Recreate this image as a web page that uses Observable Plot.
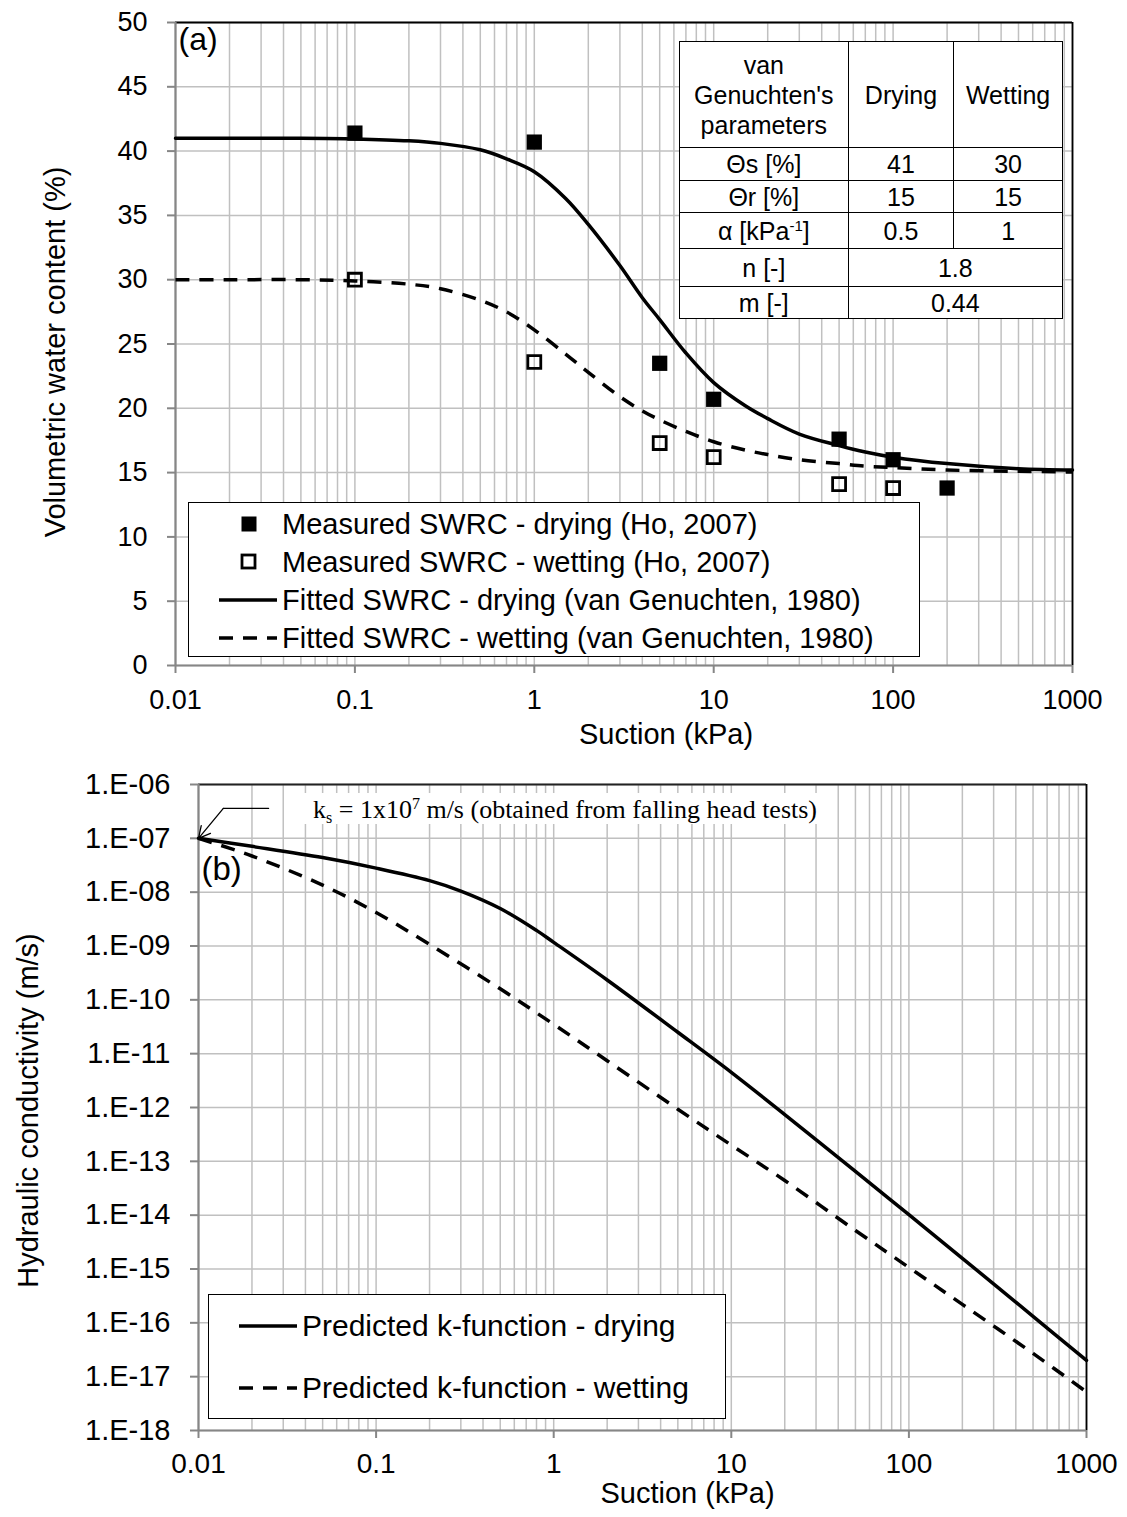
<!DOCTYPE html>
<html><head><meta charset="utf-8">
<script src="https://cdn.jsdelivr.net/npm/d3@7"></script>
<script src="https://cdn.jsdelivr.net/npm/@observablehq/plot@0.6"></script>
<style>
body{margin:0;background:#fff;}
#page{position:relative;width:1127px;height:1517px;font-family:"Liberation Sans",Arial,sans-serif;color:#000;overflow:hidden;background:#fff;}
#page svg{position:absolute;left:0;}
#ptable{position:absolute;left:679px;top:41px;width:384px;height:277px;border-collapse:collapse;background:#fff;font-size:25px;}
#ptable td{border:1.3px solid #000;text-align:center;padding:0;line-height:30px;}
.leg{position:absolute;background:#fff;border:1.5px solid #000;box-sizing:border-box;}
.row{position:absolute;left:0;white-space:nowrap;}
.row svg{position:absolute !important;}
#note{position:absolute;left:290px;top:793px;width:545px;height:31px;background:#fff;overflow:hidden;font-family:"Liberation Serif","Times New Roman",serif;font-size:26px;line-height:30px;padding-left:23px;padding-top:2px;box-sizing:border-box;white-space:nowrap;}
#note sub{font-size:16px;vertical-align:-5px;line-height:0;}
#note sup{font-size:16px;vertical-align:9px;line-height:0;}
</style></head><body><div id="page"></div>
<script>
// ---------- data: (a) soil-water retention ----------
const dryMeasSuction = [0.1, 1, 5, 10, 50, 100, 200];
const dryMeasTheta   = [41.4, 40.7, 23.5, 20.7, 17.6, 16.0, 13.8];
const wetMeasSuction = [0.1, 1, 5, 10, 50, 100];
const wetMeasTheta   = [30.0, 23.6, 17.3, 16.2, 14.1, 13.8];
const fitSuction  = [0.01,0.02,0.05,0.1,0.2,0.3,0.5,0.7,1,1.5,2,3,4,5,7,10,15,20,30,50,70,100,200,500,1000];
const fitDryTheta = [41.0,41.0,41.0,40.95,40.8,40.6,40.1,39.4,38.4,36.3,34.3,31.1,28.6,26.9,24.3,22.0,20.2,19.2,18.0,17.1,16.6,16.2,15.7,15.3,15.2];
const fitWetTheta = [30.0,30.0,30.0,29.9,29.65,29.3,28.4,27.5,26.1,24.2,22.8,20.9,19.8,19.1,18.2,17.4,16.75,16.4,16.0,15.7,15.5,15.4,15.2,15.1,15.05];
// ---------- data: (b) hydraulic conductivity ----------
const kSuctionDry = [0.01,0.02,0.05,0.1,0.2,0.3,0.5,0.8,1,2,5,10,20,50,100,200,500,1000];
const kDrying     = [1.0e-7,7.1e-8,4.4e-8,2.8e-8,1.64e-8,1.05e-8,4.98e-9,1.95e-9,1.17e-9,2.34e-10,2.5e-11,4.5e-12,7.4e-13,6.5e-14,1.02e-14,1.58e-15,1.32e-16,2.0e-17];
const kSuctionWet = [0.01,0.02,0.05,0.1,0.2,0.5,1,2,5,10,20,50,100,200,500,1000];
const kWetting    = [1.0e-7,4.7e-8,1.35e-8,4.2e-9,1.07e-9,1.6e-10,3.5e-11,7.4e-12,9.3e-13,2.0e-13,4.4e-14,5.2e-15,1.07e-15,2.2e-16,2.7e-17,5.2e-18];
// annotation pointer (suction kPa, k m/s): leader end, elbow, and arrow tip at ks
const ksLeader = [[0.0248, 3.6e-7], [0.0138, 3.6e-7]];
const ksArrow  = [[0.0138, 3.6e-7, 0.01, 1e-7]];
// ---------- ticks ----------
const suctionTicks = [0.01, 0.1, 1, 10, 100, 1000];
const thetaTicks = [0, 5, 10, 15, 20, 25, 30, 35, 40, 45, 50];
const kTicks = [1e-18,1e-17,1e-16,1e-15,1e-14,1e-13,1e-12,1e-11,1e-10,1e-9,1e-8,1e-7,1e-6];
const suctionMinor = [];
for (let e = -2; e < 3; e++) for (let m = 1; m <= 9; m++) suctionMinor.push(+(m * Math.pow(10, e)).toPrecision(3));
suctionMinor.push(1000);

const FONT = '"Liberation Sans", Arial, sans-serif';
const GRID = "#c0c0c0", AXIS = "#868686";
const page = document.getElementById("page");

const dryMeas = dryMeasSuction.map((s, i) => ({s, t: dryMeasTheta[i]}));
const wetMeas = wetMeasSuction.map((s, i) => ({s, t: wetMeasTheta[i]}));
const fitDry = fitSuction.map((s, i) => ({s, t: fitDryTheta[i]}));
const fitWet = fitSuction.map((s, i) => ({s, t: fitWetTheta[i]}));
const kDry = kSuctionDry.map((s, i) => ({s, k: kDrying[i]}));
const kWet = kSuctionWet.map((s, i) => ({s, k: kWetting[i]}));

const topChart = Plot.plot({
  width: 1127, height: 760,
  marginLeft: 175, marginRight: 55, marginTop: 22, marginBottom: 95,
  style: {fontFamily: FONT, fontSize: "27px", color: "#000", background: "transparent", overflow: "visible"},
  x: {type: "log", domain: [0.01, 1000]},
  y: {domain: [0, 50]},
  marks: [
    Plot.ruleX(suctionMinor, {stroke: GRID, strokeWidth: 1.5}),
    Plot.ruleY(thetaTicks, {stroke: GRID, strokeWidth: 1.5}),
    Plot.ruleY([50], {stroke: "#000", strokeWidth: 1.8}),
    Plot.ruleX([1000], {stroke: "#000", strokeWidth: 1.8}),
    Plot.ruleX([0.01], {stroke: AXIS, strokeWidth: 2.2}),
    Plot.ruleY([0], {stroke: AXIS, strokeWidth: 2.2}),
    Plot.axisX(suctionTicks, {anchor: "bottom", tickSize: 8, tickPadding: 16, stroke: AXIS, strokeWidth: 2, fontSize: 27, label: null, tickFormat: d => String(d)}),
    Plot.axisY(thetaTicks, {anchor: "left", tickSize: 8, tickPadding: 20, stroke: AXIS, strokeWidth: 2, fontSize: 27, label: null}),
    Plot.text(["Suction (kPa)"], {frameAnchor: "bottom", dx: 42, dy: 78, fontSize: 29}),
    Plot.text(["Volumetric water content (%)"], {frameAnchor: "left", textAnchor: "middle", dx: -120, dy: 8, rotate: -90, fontSize: 29}),
    Plot.text(["(a)"], {frameAnchor: "top-left", dx: 3, dy: 5, textAnchor: "start", lineAnchor: "top", fontSize: 32}),
    Plot.line(fitDry, {x: "s", y: "t", stroke: "#000", strokeWidth: 3.5, curve: "catmull-rom"}),
    Plot.line(fitWet, {x: "s", y: "t", stroke: "#000", strokeWidth: 3.5, curve: "catmull-rom", strokeDasharray: "14,10", strokeLinecap: "butt"}),
    Plot.dot(dryMeas, {x: "s", y: "t", symbol: "square", fill: "#000", stroke: "none", r: 8.6}),
    Plot.dot(wetMeas, {x: "s", y: "t", symbol: "square", fill: "none", stroke: "#000", strokeWidth: 2.8, r: 7.3})
  ]
});
topChart.style.top = "0px";
page.appendChild(topChart);

const fmtK = d => "1.E-" + String(Math.round(-Math.log10(d))).padStart(2, "0");
const botChart = Plot.plot({
  width: 1127, height: 757,
  marginLeft: 198, marginRight: 41, marginTop: 24, marginBottom: 87,
  style: {fontFamily: FONT, fontSize: "28px", color: "#000", background: "transparent", overflow: "visible"},
  x: {type: "log", domain: [0.01, 1000]},
  y: {type: "log", domain: [1e-18, 1e-6]},
  marks: [
    Plot.ruleX(suctionMinor, {stroke: GRID, strokeWidth: 1.5}),
    Plot.ruleY(kTicks, {stroke: GRID, strokeWidth: 1.5}),
    Plot.ruleY([1e-6], {stroke: "#222", strokeWidth: 1.8}),
    Plot.ruleX([1000], {stroke: "#000", strokeWidth: 1.8}),
    Plot.ruleX([0.01], {stroke: AXIS, strokeWidth: 2.2}),
    Plot.ruleY([1e-18], {stroke: AXIS, strokeWidth: 2.2}),
    Plot.axisX(suctionTicks, {anchor: "bottom", tickSize: 8, tickPadding: 15, stroke: AXIS, strokeWidth: 2, fontSize: 28, label: null, tickFormat: d => String(d)}),
    Plot.axisY(kTicks, {anchor: "left", tickSize: 8, tickPadding: 20, stroke: AXIS, strokeWidth: 2, fontSize: 29, label: null, tickFormat: fmtK}),
    Plot.text(["Suction (kPa)"], {frameAnchor: "bottom", dx: 45, dy: 72, fontSize: 29}),
    Plot.text(["Hydraulic conductivity (m/s)"], {frameAnchor: "left", textAnchor: "middle", dx: -170, dy: 3, rotate: -90, fontSize: 29}),
    Plot.text(["(b)"], {frameAnchor: "top-left", dx: 3, dy: 72, textAnchor: "start", lineAnchor: "top", fontSize: 33}),
    Plot.line(kDry, {x: "s", y: "k", stroke: "#000", strokeWidth: 3.5, curve: "catmull-rom"}),
    Plot.line(kWet, {x: "s", y: "k", stroke: "#000", strokeWidth: 3.5, curve: "catmull-rom", strokeDasharray: "14,10", strokeLinecap: "butt"}),
    Plot.line(ksLeader, {x: d => d[0], y: d => d[1], stroke: "#000", strokeWidth: 1.3}),
    Plot.arrow(ksArrow, {x1: d => d[0], y1: d => d[1], x2: d => d[2], y2: d => d[3], stroke: "#000", strokeWidth: 1.3, headLength: 18, headAngle: 55})
  ]
});
botChart.style.top = "760px";
page.appendChild(botChart);

// ---------- parameter table ----------
page.insertAdjacentHTML("beforeend", `
<table id="ptable">
  <colgroup><col style="width:169px"><col style="width:106px"><col style="width:109px"></colgroup>
  <tr style="height:106px"><td>van<br>Genuchten's<br>parameters</td><td>Drying</td><td>Wetting</td></tr>
  <tr style="height:33px"><td>&#920;s [%]</td><td>41</td><td>30</td></tr>
  <tr style="height:32px"><td>&#920;r [%]</td><td>15</td><td>15</td></tr>
  <tr style="height:36px"><td>&alpha; [kPa<sup style="font-size:15px;line-height:0">-1</sup>]</td><td>0.5</td><td>1</td></tr>
  <tr style="height:38px"><td>n [-]</td><td colspan="2">1.8</td></tr>
  <tr style="height:32px"><td>m [-]</td><td colspan="2">0.44</td></tr>
</table>`);

// ---------- legends ----------
function sym(kind) {
  if (kind === "fill") return `<svg width="16" height="16" style="left:52px;top:-8px"><rect x="0.5" y="0.5" width="15" height="15" fill="#000"/></svg>`;
  if (kind === "open") return `<svg width="18" height="18" style="left:51px;top:-9px"><rect x="2" y="2" width="13" height="13" fill="#fff" stroke="#000" stroke-width="2.8"/></svg>`;
  if (kind === "solid") return `<svg width="60" height="8" style="left:30px;top:-4px"><line x1="0" y1="4" x2="58" y2="4" stroke="#000" stroke-width="3.5"/></svg>`;
  return `<svg width="60" height="8" style="left:30px;top:-4px"><line x1="0" y1="4" x2="58" y2="4" stroke="#000" stroke-width="3.5" stroke-dasharray="14,10"/></svg>`;
}
const legA = [
  ["fill", "Measured SWRC - drying (Ho, 2007)", 21],
  ["open", "Measured SWRC - wetting (Ho, 2007)", 59],
  ["solid", "Fitted SWRC - drying (van Genuchten, 1980)", 97],
  ["dash", "Fitted SWRC - wetting (van Genuchten, 1980)", 135]
];
let h = `<div class="leg" style="left:188px;top:502px;width:732px;height:155px;font-size:29px">`;
for (const [k, t, y] of legA) h += `<div class="row" style="top:${y}px;width:100%">${sym(k)}<span style="position:absolute;left:93px;top:-17px;line-height:34px">${t}</span></div>`;
h += `</div>`;
const legB = [["solid", "Predicted k-function - drying", 31], ["dash", "Predicted k-function - wetting", 93]];
h += `<div class="leg" style="left:208px;top:1294px;width:518px;height:125px;font-size:30px">`;
for (const [k, t, y] of legB) h += `<div class="row" style="top:${y}px;width:100%">${sym(k)}<span style="position:absolute;left:93px;top:-18px;line-height:36px">${t}</span></div>`;
h += `</div>`;
h += `<div id="note">k<sub>s</sub> = 1x10<sup>7</sup> m/s (obtained from falling head tests)</div>`;
page.insertAdjacentHTML("beforeend", h);
</script>
</body></html>
